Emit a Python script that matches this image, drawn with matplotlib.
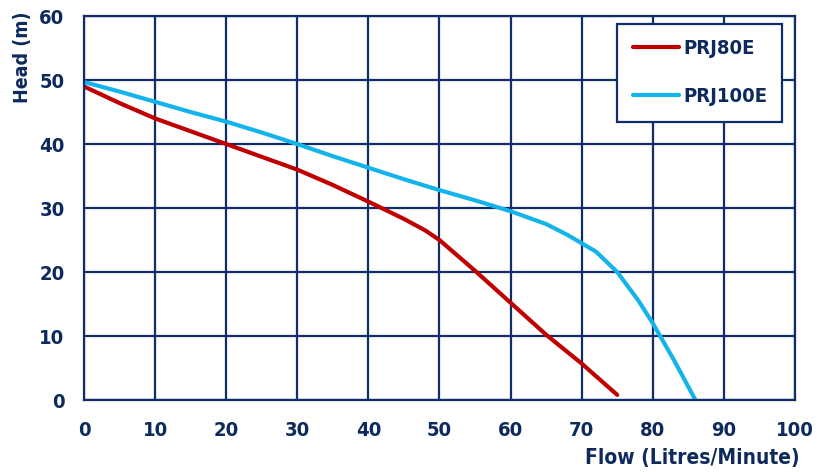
import matplotlib.pyplot as plt
import numpy as np

flow_80 = [0, 5, 10, 15, 20, 25, 30, 35, 40, 45, 48, 50, 55, 60, 65, 70, 75]
head_80 = [49, 46.4, 44, 42, 40, 38, 36, 33.6, 31, 28.3, 26.5, 25, 20.2, 15.2, 10.2, 5.7, 0.8]

flow_100 = [0, 5, 10, 15, 20, 25, 30, 35, 40, 45, 50, 55, 60, 65, 68, 70, 72, 75, 78, 80, 83, 86]
head_100 = [49.7, 48.2, 46.6, 45, 43.5, 41.8, 40, 38.1, 36.3, 34.5, 32.8, 31.2, 29.5, 27.5, 25.8, 24.5, 23.2, 20, 15.5, 12, 6.2, 0]

navy = '#0f2d69'
text_c = '#0e2a5c'

plt.rcParams['font.family'] = ['DejaVu Sans']
plt.rcParams['font.stretch'] = 'condensed'

fig = plt.figure(figsize=(8.21, 4.72), dpi=100)
ax = fig.add_axes([0.1023, 0.1525, 0.8660, 0.8135])

ax.plot(flow_80, head_80, color='#c00000', lw=3, label='PRJ80E', solid_capstyle='round')
ax.plot(flow_100, head_100, color='#14b4eb', lw=3, label='PRJ100E', solid_capstyle='round')

ax.set_xlim(0, 100)
ax.set_ylim(0, 60)
ax.set_xticks(np.arange(0, 101, 10))
ax.set_yticks(np.arange(0, 61, 10))
ax.grid(True, color=navy, lw=1.6)
ax.set_axisbelow(True)
for s in ax.spines.values():
    s.set_color(navy)
    s.set_linewidth(1.6)
ax.tick_params(length=0, labelsize=14.5, colors=text_c)
ax.tick_params(axis='x', pad=15)
ax.tick_params(axis='y', pad=14)
for lab in ax.get_xticklabels() + ax.get_yticklabels():
    lab.set_fontweight('bold')

ax.set_xlabel('Flow (Litres/Minute)', fontsize=15, fontweight='bold', color=text_c)
ax.xaxis.set_label_coords(1.007, -0.125)
ax.xaxis.label.set_horizontalalignment('right')
ax.set_ylabel('Head (m)', fontsize=14, fontweight='bold', color=text_c)
ax.yaxis.set_label_coords(-0.073, 0.893)

leg = ax.legend(loc='upper right', bbox_to_anchor=(0.982, 0.979), fontsize=14.5,
                frameon=True, fancybox=False, handlelength=2.3, borderpad=0.75,
                labelspacing=1.45, handletextpad=0.2, borderaxespad=0)
leg.get_frame().set_edgecolor(navy)
leg.get_frame().set_linewidth(1.6)
leg.get_frame().set_alpha(1)
for t in leg.get_texts():
    t.set_color(text_c)
    t.set_fontweight('bold')

plt.savefig('out.png', dpi=100)
